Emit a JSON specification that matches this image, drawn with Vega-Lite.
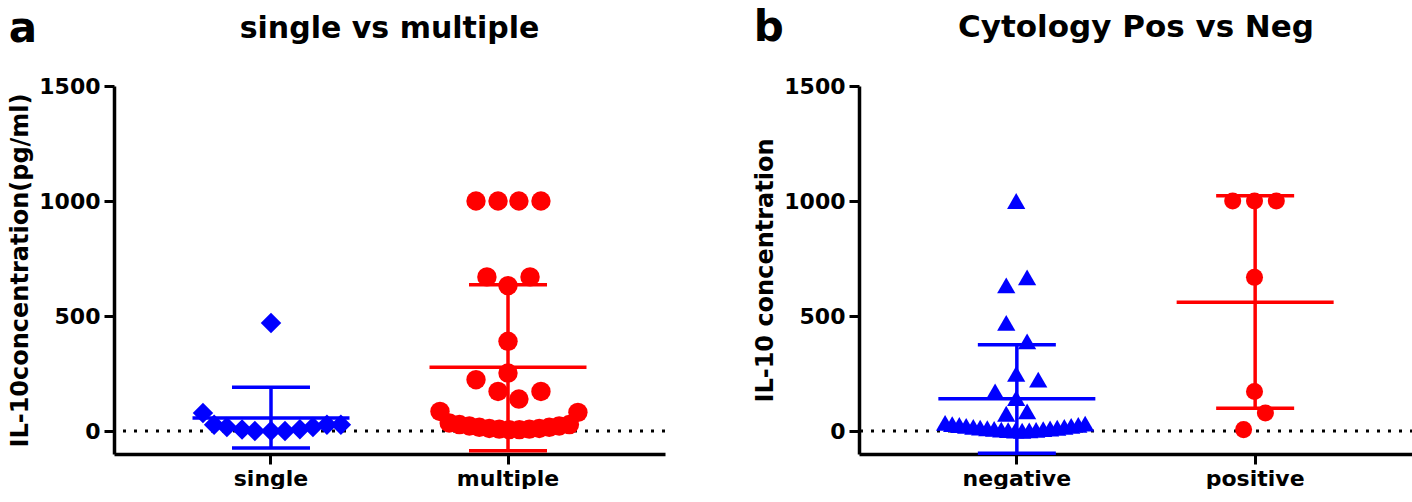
{
  "$schema": "https://vega.github.io/schema/vega-lite/v6.json",
  "padding": {"left": 8, "top": 7, "right": 0, "bottom": 0},
  "spacing": 86,
  "datasets": {
    "pts": [
      {"panel": "a", "group": "single", "value": 470, "jit": 0},
      {"panel": "a", "group": "single", "value": 78, "jit": -0.287},
      {"panel": "a", "group": "single", "value": 27, "jit": -0.24},
      {"panel": "a", "group": "single", "value": 17, "jit": -0.186},
      {"panel": "a", "group": "single", "value": 6, "jit": -0.122},
      {"panel": "a", "group": "single", "value": 0, "jit": -0.068},
      {"panel": "a", "group": "single", "value": 0, "jit": 0},
      {"panel": "a", "group": "single", "value": 0, "jit": 0.059},
      {"panel": "a", "group": "single", "value": 8, "jit": 0.122},
      {"panel": "a", "group": "single", "value": 17, "jit": 0.177},
      {"panel": "a", "group": "single", "value": 27, "jit": 0.236},
      {"panel": "a", "group": "single", "value": 27, "jit": 0.295},
      {"panel": "a", "group": "multiple", "value": 1000, "jit": -0.135},
      {"panel": "a", "group": "multiple", "value": 1000, "jit": -0.042},
      {"panel": "a", "group": "multiple", "value": 1000, "jit": 0.046},
      {"panel": "a", "group": "multiple", "value": 1000, "jit": 0.139},
      {"panel": "a", "group": "multiple", "value": 670, "jit": -0.089},
      {"panel": "a", "group": "multiple", "value": 670, "jit": 0.093},
      {"panel": "a", "group": "multiple", "value": 632, "jit": 0},
      {"panel": "a", "group": "multiple", "value": 390, "jit": 0},
      {"panel": "a", "group": "multiple", "value": 252, "jit": 0},
      {"panel": "a", "group": "multiple", "value": 223, "jit": -0.135},
      {"panel": "a", "group": "multiple", "value": 172, "jit": -0.042},
      {"panel": "a", "group": "multiple", "value": 139, "jit": 0.046},
      {"panel": "a", "group": "multiple", "value": 172, "jit": 0.139},
      {"panel": "a", "group": "multiple", "value": 85, "jit": -0.287},
      {"panel": "a", "group": "multiple", "value": 81, "jit": 0.295},
      {"panel": "a", "group": "multiple", "value": 35, "jit": -0.248},
      {"panel": "a", "group": "multiple", "value": 28, "jit": -0.205},
      {"panel": "a", "group": "multiple", "value": 22, "jit": -0.163},
      {"panel": "a", "group": "multiple", "value": 16, "jit": -0.121},
      {"panel": "a", "group": "multiple", "value": 11, "jit": -0.079},
      {"panel": "a", "group": "multiple", "value": 8, "jit": -0.037},
      {"panel": "a", "group": "multiple", "value": 6, "jit": 0.005},
      {"panel": "a", "group": "multiple", "value": 6, "jit": 0.048},
      {"panel": "a", "group": "multiple", "value": 8, "jit": 0.09},
      {"panel": "a", "group": "multiple", "value": 11, "jit": 0.132},
      {"panel": "a", "group": "multiple", "value": 16, "jit": 0.174},
      {"panel": "a", "group": "multiple", "value": 22, "jit": 0.216},
      {"panel": "a", "group": "multiple", "value": 28, "jit": 0.259},
      {"panel": "b", "group": "negative", "value": 1000, "jit": 0},
      {"panel": "b", "group": "negative", "value": 668, "jit": 0.046},
      {"panel": "b", "group": "negative", "value": 633, "jit": -0.042},
      {"panel": "b", "group": "negative", "value": 470, "jit": -0.042},
      {"panel": "b", "group": "negative", "value": 390, "jit": 0.046},
      {"panel": "b", "group": "negative", "value": 248, "jit": 0},
      {"panel": "b", "group": "negative", "value": 223, "jit": 0.093},
      {"panel": "b", "group": "negative", "value": 172, "jit": -0.089},
      {"panel": "b", "group": "negative", "value": 143, "jit": 0},
      {"panel": "b", "group": "negative", "value": 75, "jit": -0.042},
      {"panel": "b", "group": "negative", "value": 85, "jit": 0.046},
      {"panel": "b", "group": "negative", "value": 35, "jit": -0.3},
      {"panel": "b", "group": "negative", "value": 30, "jit": -0.27},
      {"panel": "b", "group": "negative", "value": 26, "jit": -0.24},
      {"panel": "b", "group": "negative", "value": 22, "jit": -0.211},
      {"panel": "b", "group": "negative", "value": 18, "jit": -0.181},
      {"panel": "b", "group": "negative", "value": 15, "jit": -0.152},
      {"panel": "b", "group": "negative", "value": 12, "jit": -0.122},
      {"panel": "b", "group": "negative", "value": 9, "jit": -0.093},
      {"panel": "b", "group": "negative", "value": 6, "jit": -0.063},
      {"panel": "b", "group": "negative", "value": 4, "jit": -0.034},
      {"panel": "b", "group": "negative", "value": 2, "jit": -0.004},
      {"panel": "b", "group": "negative", "value": 1, "jit": 0.025},
      {"panel": "b", "group": "negative", "value": 3, "jit": 0.055},
      {"panel": "b", "group": "negative", "value": 5, "jit": 0.084},
      {"panel": "b", "group": "negative", "value": 8, "jit": 0.114},
      {"panel": "b", "group": "negative", "value": 11, "jit": 0.143},
      {"panel": "b", "group": "negative", "value": 14, "jit": 0.173},
      {"panel": "b", "group": "negative", "value": 18, "jit": 0.203},
      {"panel": "b", "group": "negative", "value": 22, "jit": 0.232},
      {"panel": "b", "group": "negative", "value": 27, "jit": 0.262},
      {"panel": "b", "group": "negative", "value": 32, "jit": 0.291},
      {"panel": "b", "group": "positive", "value": 1000, "jit": -0.092},
      {"panel": "b", "group": "positive", "value": 1000, "jit": 0},
      {"panel": "b", "group": "positive", "value": 1000, "jit": 0.092},
      {"panel": "b", "group": "positive", "value": 668, "jit": 0},
      {"panel": "b", "group": "positive", "value": 172, "jit": 0},
      {"panel": "b", "group": "positive", "value": 78, "jit": 0.046},
      {"panel": "b", "group": "positive", "value": 6, "jit": -0.046}
    ],
    "summ": [
      {"panel": "a", "group": "single", "mean": 56, "lo": -74, "hi": 190},
      {"panel": "a", "group": "multiple", "mean": 277, "lo": -86, "hi": 636},
      {"panel": "b", "group": "negative", "mean": 140, "lo": -97, "hi": 375},
      {"panel": "b", "group": "positive", "mean": 560, "lo": 99, "hi": 1023}
    ]
  },
  "hconcat": [
    {
      "title": {"text": "a", "anchor": "start", "frame": "bounds", "fontSize": 42, "fontWeight": "bold", "font": "DejaVu Sans", "color": "black", "offset": -37},
      "hconcat": [
        {
          "width": 551,
          "height": 368,
          "title": {"text": "single vs multiple", "fontSize": 30, "fontWeight": "bold", "font": "DejaVu Sans", "color": "black", "offset": 31},
          "data": {"name": "pts"},
          "transform": [{"filter": "datum.panel === 'a'"}],
          "encoding": {
            "x": {"field": "group", "type": "nominal", "sort": ["single", "multiple"],
                  "scale": {"type": "band", "domain": ["single", "multiple"], "paddingInner": 0, "paddingOuter": 0.1624},
                  "axis": {"title": null, "labelAngle": 0, "orient": "bottom"}},
            "y": {"type": "quantitative", "scale": {"domain": [-100, 1500], "nice": false, "zero": false},
                  "axis": {"title": "IL-10concentration(pg/ml)", "values": [0, 500, 1000, 1500], "format": "d", "titlePadding": 6}}
          },
          "layer": [
            {"data": {"values": [{}]}, "transform": [], "mark": {"type": "rule", "strokeDash": [3, 8], "strokeWidth": 3, "color": "black"}, "encoding": {"x": null, "y": {"datum": 0, "type": "quantitative"}}},
            {"mark": {"type": "point", "filled": true, "opacity": 1, "strokeWidth": 0},
             "encoding": {
               "y": {"field": "value", "type": "quantitative"},
               "xOffset": {"field": "jit", "type": "quantitative", "scale": {"domain": [-0.5, 0.5], "range": [0, 237]}},
               "color": {"field": "group", "type": "nominal", "scale": {"domain": ["single", "multiple", "negative", "positive"], "range": ["#0000ff", "#ff0000", "#0000ff", "#ff0000"]}, "legend": null},
               "shape": {"field": "group", "type": "nominal", "scale": {"domain": ["single", "multiple", "negative", "positive"], "range": ["diamond", "circle", "triangle-up", "circle"]}, "legend": null},
               "size": {"field": "group", "type": "nominal", "scale": {"domain": ["single", "multiple", "negative", "positive"], "range": [420, 290, 360, 290]}, "legend": null}
             }},
            {"data": {"name": "summ"}, "transform": [{"filter": "datum.panel === 'a'"}],
             "mark": {"type": "rule", "strokeWidth": 3.5},
             "encoding": {"y": {"field": "lo", "type": "quantitative"}, "y2": {"field": "hi"},
               "color": {"field": "group", "type": "nominal", "legend": null}}},
            {"data": {"name": "summ"}, "transform": [{"filter": "datum.panel === 'a'"}],
             "mark": {"type": "tick", "size": 157, "thickness": 3.5, "opacity": 1},
             "encoding": {"y": {"field": "mean", "type": "quantitative"}, "color": {"field": "group", "type": "nominal", "legend": null}}},
            {"data": {"name": "summ"}, "transform": [{"filter": "datum.panel === 'a'"}],
             "mark": {"type": "tick", "size": 78, "thickness": 3.5, "opacity": 1},
             "encoding": {"y": {"field": "lo", "type": "quantitative"}, "color": {"field": "group", "type": "nominal", "legend": null}}},
            {"data": {"name": "summ"}, "transform": [{"filter": "datum.panel === 'a'"}],
             "mark": {"type": "tick", "size": 78, "thickness": 3.5, "opacity": 1},
             "encoding": {"y": {"field": "hi", "type": "quantitative"}, "color": {"field": "group", "type": "nominal", "legend": null}}}
          ]
        }
      ]
    },
    {
      "title": {"text": "b", "anchor": "start", "frame": "bounds", "fontSize": 42, "fontWeight": "bold", "font": "DejaVu Sans", "color": "black", "offset": -38},
      "hconcat": [
        {
          "width": 554,
          "height": 368,
          "title": {"text": "Cytology Pos vs Neg", "fontSize": 31, "fontWeight": "bold", "font": "DejaVu Sans", "color": "black", "offset": 31},
          "data": {"name": "pts"},
          "transform": [{"filter": "datum.panel === 'b'"}],
          "encoding": {
            "x": {"field": "group", "type": "nominal", "sort": ["negative", "positive"],
                  "scale": {"type": "band", "domain": ["negative", "positive"], "paddingInner": 0, "paddingOuter": 0.1624},
                  "axis": {"title": null, "labelAngle": 0, "orient": "bottom"}},
            "y": {"type": "quantitative", "scale": {"domain": [-100, 1500], "nice": false, "zero": false},
                  "axis": {"title": "IL-10 concentration", "values": [0, 500, 1000, 1500], "format": "d", "titlePadding": 6}}
          },
          "layer": [
            {"data": {"values": [{}]}, "transform": [], "mark": {"type": "rule", "strokeDash": [3, 8], "strokeWidth": 3, "color": "black"}, "encoding": {"x": null, "y": {"datum": 0, "type": "quantitative"}}},
            {"mark": {"type": "point", "filled": true, "opacity": 1, "strokeWidth": 0},
             "encoding": {
               "y": {"field": "value", "type": "quantitative"},
               "xOffset": {"field": "jit", "type": "quantitative", "scale": {"domain": [-0.5, 0.5], "range": [0, 238]}},
               "color": {"field": "group", "type": "nominal", "scale": {"domain": ["single", "multiple", "negative", "positive"], "range": ["#0000ff", "#ff0000", "#0000ff", "#ff0000"]}, "legend": null},
               "shape": {"field": "group", "type": "nominal", "scale": {"domain": ["single", "multiple", "negative", "positive"], "range": ["diamond", "circle", "triangle-up", "circle"]}, "legend": null},
               "size": {"field": "group", "type": "nominal", "scale": {"domain": ["single", "multiple", "negative", "positive"], "range": [420, 290, 360, 290]}, "legend": null}
             }},
            {"data": {"name": "summ"}, "transform": [{"filter": "datum.panel === 'b'"}],
             "mark": {"type": "rule", "strokeWidth": 3.5},
             "encoding": {"y": {"field": "lo", "type": "quantitative"}, "y2": {"field": "hi"},
               "color": {"field": "group", "type": "nominal", "legend": null}}},
            {"data": {"name": "summ"}, "transform": [{"filter": "datum.panel === 'b'"}],
             "mark": {"type": "tick", "size": 157, "thickness": 3.5, "opacity": 1},
             "encoding": {"y": {"field": "mean", "type": "quantitative"}, "color": {"field": "group", "type": "nominal", "legend": null}}},
            {"data": {"name": "summ"}, "transform": [{"filter": "datum.panel === 'b'"}],
             "mark": {"type": "tick", "size": 78, "thickness": 3.5, "opacity": 1},
             "encoding": {"y": {"field": "lo", "type": "quantitative"}, "color": {"field": "group", "type": "nominal", "legend": null}}},
            {"data": {"name": "summ"}, "transform": [{"filter": "datum.panel === 'b'"}],
             "mark": {"type": "tick", "size": 78, "thickness": 3.5, "opacity": 1},
             "encoding": {"y": {"field": "hi", "type": "quantitative"}, "color": {"field": "group", "type": "nominal", "legend": null}}}
          ]
        }
      ]
    }
  ],
  "config": {
    "font": "DejaVu Sans",
    "background": "white",
    "view": {"stroke": null},
    "axis": {
      "labelFont": "DejaVu Sans", "labelFontWeight": "bold", "labelFontSize": 22, "labelColor": "black", "labelPadding": 4,
      "titleFont": "DejaVu Sans", "titleFontWeight": "bold", "titleFontSize": 24, "titleColor": "black",
      "domainColor": "black", "domainWidth": 3.5, "tickColor": "black", "tickWidth": 3, "tickSize": 10, "grid": false
    }
  }
}
